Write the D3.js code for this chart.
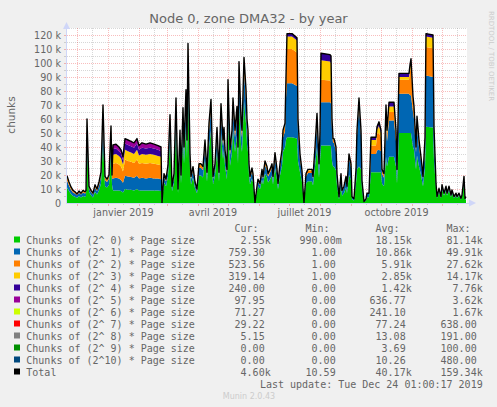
<!DOCTYPE html>
<html>
<head>
<meta charset="utf-8">
<script src="https://cdn.jsdelivr.net/npm/d3@7"></script>
<style>
  html, body { margin: 0; padding: 0; background: #f0f0f0; }
  svg { display: block; }
  text { font-family: "DejaVu Sans", sans-serif; }
  .mono { font-family: "DejaVu Sans Mono", monospace; }
</style>
</head>
<body>
<svg id="chart" width="497" height="407"></svg>
<script>
// ---------------------------------------------------------------
// Data (values in thousands of chunks), day offset from 2018-11-21
// ---------------------------------------------------------------
const DAY = [
  0,2,4,6,8,10,12,14,16,18,19,20,22,24,26,28,30,32,34,36,38,40,42,44,45,
  46,49,52,54,56,58,61,64,67,70,72,75,79,83,87,91,94,95,
  97,99,101,103,105,107,109,111,113,114,116,117,119,120,121,123,124,126,128,130,
  132,134,136,138,140,142,144,146,148,150,152,154,156,157,158,160,161,163,165,166,
  168,170,171,172,174,175,177,179,180,181,182,183,185,186,188,190,191,193,195,196,
  198,200,201,203,205,206,208,210,211,213,215,216,218,
  219,220,225,230,231,233,235,236,237,239,241,245,246,248,250,252,253,
  254,263,264,265,266,267,269,270,272,274,275,277,279,280,282,284,285,287,289,290,292,294,295,297,299,300,302,
  304,309,310,312,314,315,317,319,320,322,327,329,330,332,342,343,344,346,347,349,350,352,354,355,356,358,359,366,367,
  369,370,372,374,375,377,379,380,382,384,385,387,389,390,392,394,395,397,398,399
];
// Chunks of (2^0)
const S0 = [
  11,8.5,6.5,5,4.5,3.5,5,4,5,4.5,5,40,8,5.5,4,8,6,9,14,44,12,11,13,36,13,
  9,9,9,8.5,7.5,10,9.5,9.5,9,10,9,9,9,9,9,9,8.5,0,
  14.7,11.9,18.9,44.1,8.4,14.7,52.5,7,36.4,14,47.6,28,56.7,31.5,79.8,24.5,13.3,18.2,10.5,7,
  19.6,19.6,18.2,31.5,15.4,39.9,51.8,13.3,19.6,37.8,15.4,49.7,31.5,37.8,26.6,16.8,61.6,26.6,36.4,52.5,
  36.4,48.3,28,70.7,42,36.4,72.8,56.7,42,36.4,19.6,13.3,17.5,14.7,0,8.4,11.9,9.8,16.8,13.3,
  21,18.2,14.7,16.8,19.6,13.3,25.2,16.8,9.8,19.6,26.6,36.4,39.9,
  45,47,47,46,30,22,15,7,0,14,15.5,15.5,12.5,26,40,18,30,
  41,41,40.5,30,26,26,23.2,12.2,2.6,12.2,5.2,7,11,7,20.3,16.2,2.6,1.7,13.9,24,26,24,9.3,0.6,1.7,4.1,4.1,
  22,22,22,22,22,14,12,33,26,33,33,26,14,50,50,50,50,40,38,24,34,26,20,16,12,25,54.5,54,30,
  10.5,3.4,7.9,3.4,9.8,5.3,9,5.3,9,4.3,7,3.4,5.3,3.4,5.3,2.5,4.3,14.3,2.5,2.55
];
// Chunks of (2^1)
const S1 = [
  5,4,3,2.5,2.2,2,2.3,2,2.5,2.2,2.5,12,2.5,2.3,2,3,2.5,3.5,5,16,4.5,4,4.5,12,4.5,
  8.5,9,8.5,8,7,9.5,9.5,9,9,9.5,8.5,9,8.5,9,8.5,8.5,8.5,0,
  4.2,3.4,5.4,12.6,2.4,4.2,15,2,10.4,4,13.6,8,16.2,9,22.8,7,3.8,5.2,3,2,
  5.6,5.6,5.2,9,4.4,11.4,14.8,3.8,5.6,10.8,4.4,14.2,9,10.8,7.6,4.8,17.6,7.6,10.4,15,
  10.4,13.8,8,20.2,12,10.4,20.8,16.2,12,10.4,5.6,3.8,5,4.2,0,2.4,3.4,2.8,4.8,3.8,
  6,5.2,4.2,4.8,5.6,3.8,7.2,4.8,2.8,5.6,7.6,10.4,11.4,
  30,38.5,38.5,37.5,20,9,6,2.2,0,5,6,6,4.8,10,17,7,15,
  31,31,30.5,22,17,17,13.2,6.9,1.5,6.9,3,4,6.3,4,11.6,9.2,1.5,1,7.9,24,43,24,5.3,0.3,1,2.3,2.3,
  13,13,15.5,16,15,7,6,26,18,26,26,18,7,28,28,27,27,25,22,12,20,14,10,8,5,15,36.5,36,18,
  2.1,0.7,1.6,0.7,2,1,1.8,1,1.8,0.9,1.4,0.7,1,0.7,1,0.5,0.9,2.9,0.5,0.76
];
// Chunks of (2^2)
const S2 = [
  2.5,2,1.5,1.2,1,0.8,1,0.8,1.2,1,1.2,6,1.2,1,0.8,1.5,1.2,2,2.5,8,2,1.5,2,5,2,
  10.5,10.5,10,9.5,8,11.5,11,11,10.5,11.5,10.5,10.5,10.5,10.5,10.5,10,10,0,
  1.5,1.2,1.9,4.4,0.8,1.5,5.3,0.7,3.6,1.4,4.8,2.8,5.7,3.2,8,2.5,1.3,1.8,1.1,0.7,
  2,2,1.8,3.2,1.5,4,5.2,1.3,2,3.8,1.5,5,3.2,3.8,2.7,1.7,6.2,2.7,3.6,5.3,
  3.6,4.8,2.8,7.1,4.2,3.6,7.3,5.7,4.2,3.6,2,1.3,1.8,1.5,0,0.8,1.2,1,1.7,1.3,
  2.1,1.8,1.5,1.7,2,1.3,2.5,1.7,1,2,2.7,3.6,4,
  12,24.5,24.5,24,7,3,1.5,0.6,0,1.5,1.8,1.8,1.3,3,5,2,4,
  16,15.5,15.5,5,2,2,2.4,1.3,0.3,1.3,0.5,0.7,1.1,0.7,2.1,1.7,0.3,0.2,1.4,3,4.5,3,1,0.1,0.2,0.4,0.4,
  6,6,12,12,10,2,2,6,5,6,6,5,2,10,10,17,21,8,7,3,6,4,2,1.5,1.5,5,20.5,20.5,5,
  1.1,0.4,0.8,0.4,1,0.6,1,0.6,1,0.4,0.7,0.4,0.6,0.4,0.6,0.3,0.4,1.5,0.3,0.52
];
// Chunks of (2^3)
const S3 = [
  1,0.5,0.5,0.3,0.3,0.2,0.2,0.2,0.3,0.3,0.3,2,0.3,0.2,0.2,0.5,0.3,0.5,0.5,2,0.5,0.5,0.5,2,0.5,
  6.5,6.5,6,6,5,7,7,6.5,6.5,7,6,6.5,6.5,6.5,6.5,6,6,0,
  0.6,0.5,0.8,1.9,0.4,0.6,2.2,0.3,1.6,0.6,2,1.2,2.4,1.3,3.4,1,0.6,0.8,0.4,0.3,
  0.8,0.8,0.8,1.3,0.7,1.7,2.2,0.6,0.8,1.6,0.7,2.1,1.3,1.6,1.1,0.7,2.6,1.1,1.6,2.2,
  1.6,2.1,1.2,3,1.8,1.6,3.1,2.4,1.8,1.6,0.8,0.6,0.7,0.6,0,0.4,0.5,0.4,0.7,0.6,
  0.9,0.8,0.6,0.7,0.8,0.6,1.1,0.7,0.4,0.8,1.1,1.6,1.7,
  3,9,9,8.5,2.5,1,0.5,0.2,0,0.5,0.7,0.7,0.4,1,2,1,1,
  14,13.5,13.5,2,1,1,1.2,0.6,0.1,0.6,0.3,0.3,0.6,0.3,1,0.9,0.1,0.1,0.8,1,1.5,1,0.4,0,0.1,0.2,0.2,
  4,4,3,5,3,1,1,4,3,4,4,3,1,2,2,3,3.5,2,1.5,1,2,1,1,0.5,0.5,2,7.5,7.5,1.5,
  0.3,0.1,0.2,0.1,0.3,0.1,0.2,0.1,0.2,0.1,0.2,0.1,0.1,0.1,0.1,0,0.1,0.3,0,0.32
];
// Chunks of (2^4)
const S4 = [
  0,0,0,0,0,0,0,0,0,0,0,0,0,0,0,0,0,0,0,0,0,0,0,0,0,
  4,4,3.5,3.5,3,4.5,4.5,4.5,4.5,4.5,4,4.5,4.5,4.5,4.5,4.5,4,0,
  0,0,0,0,0,0,0,0,0,0,0,0,0,0,0,0,0,0,0,0,
  0,0,0,0,0,0,0,0,0,0,0,0,0,0,0,0,0,0,0,0,
  0,0,0,0,0,0,0,0,0,0,0,0,0,0,0,0,0,0,0,0,
  0,0,0,0,0,0,0,0,0,0,0,0,0,
  0,2,2,2,0.5,0,0,0,0,0,0,0,0,0,0,0,0,
  5,5,5,1,0,0,0,0,0,0,0,0,0,0,0,0,0,0,0,0,0,0,0,0,0,0,0,
  2,2,2,3,2,0,0,1,0,3,3,0,0,2.6,2.6,1.6,1.5,1,0.5,0,0,0,0,0,0,0,2,2,0,
  0,0,0,0,0,0,0,0,0,0,0,0,0,0,0,0,0,0,0,0.24
];
// Chunks of (2^5)
const S5 = [
  0,0,0,0,0,0,0,0,0,0,0,0,0,0,0,0,0,0,0,0,0,0,0,0,0,
  3,3,3,2.5,2.5,3.5,3.5,3.5,3.5,3.5,3,3.5,3,3.5,3,3,3,0,
  0,0,0,0,0,0,0,0,0,0,0,0,0,0,0,0,0,0,0,0,
  0,0,0,0,0,0,0,0,0,0,0,0,0,0,0,0,0,0,0,0,
  0,0,0,0,0,0,0,0,0,0,0,0,0,0,0,0,0,0,0,0,
  0,0,0,0,0,0,0,0,0,0,0,0,0,
  0,0,0,0,0,0,0,0,0,0,0,0,0,0,0,0,0,
  0,0,0,0,0,0,0,0,0,0,0,0,0,0,0,0,0,0,0,0,0,0,0,0,0,0,0,
  0,0,0,0,0,0,0,0,0,0,0,0,0,0,0,0,0,0,0,0,0,0,0,0,0,0,0,0,0,
  0,0,0,0,0,0,0,0,0,0,0,0,0,0,0,0,0,0,0,0.1
];

// Legend
const LABELS = [
  'Chunks of (2^ 0) * Page size', 'Chunks of (2^ 1) * Page size',
  'Chunks of (2^ 2) * Page size', 'Chunks of (2^ 3) * Page size',
  'Chunks of (2^ 4) * Page size', 'Chunks of (2^ 5) * Page size',
  'Chunks of (2^ 6) * Page size', 'Chunks of (2^ 7) * Page size',
  'Chunks of (2^ 8) * Page size', 'Chunks of (2^ 9) * Page size',
  'Chunks of (2^10) * Page size', 'Total'
];
const COLORS = ['#00CC00','#0066B3','#FF8000','#FFCC00','#330099','#990099',
                '#CCFF00','#FF0000','#808080','#008F00','#00487D','#000000'];
const CUR = ['2.55k','759.30','523.56','319.14','240.00','97.95','71.27','29.22','5.15','0.00','0.00','4.60k'];
const MIN = ['990.00m','1.00','1.00','1.00','0.00','0.00','0.00','0.00','0.00','0.00','0.00','10.59'];
const AVG = ['18.15k','10.86k','5.91k','2.85k','1.42k','636.77','241.10','77.24','13.08','3.69','10.26','40.17k'];
const MAX = ['81.14k','49.91k','27.62k','14.17k','7.76k','3.62k','1.67k','638.00','191.00','100.00','480.00','159.34k'];
const Y_TICKS = [0,10000,20000,30000,40000,50000,60000,70000,80000,90000,100000,110000,120000];
const X_LABEL_MONTHS = ['janvier 2019','avril 2019','juillet 2019','octobre 2019'];

// ---------------------------------------------------------------
const X0 = 67, X1 = 467, Y0 = 203, Y1 = 28;
const start = new Date(2018, 10, 21);
const end = d3.timeDay.offset(start, 400);

const svg = d3.select('#chart');
svg.append('rect').attr('width', 497).attr('height', 407).attr('fill', '#f0f0f0');
svg.append('rect').attr('x', X0).attr('y', Y1).attr('width', X1 - X0).attr('height', Y0 - Y1).attr('fill', '#fff');

const x = d3.scaleTime().domain([start, end]).range([X0, X1]);
const y = d3.scaleLinear().domain([0, 125000]).range([Y0, Y1]);

const GRID = 'rgba(140,140,140,0.35)';
const MGRID = 'rgba(229,0,0,0.26)';

// grid: horizontal
const grid = svg.append('g');
d3.range(5000, 125001, 5000).forEach(v => {
  const major = v % 10000 === 0;
  grid.append('line')
    .attr('x1', X0).attr('x2', X1)
    .attr('y1', Math.round(y(v)) + 0.5).attr('y2', Math.round(y(v)) + 0.5)
    .attr('stroke', major ? MGRID : GRID)
    .attr('stroke-dasharray', '1,1');
  grid.append('line')
    .attr('x1', X0 - 3).attr('x2', X0)
    .attr('y1', Math.round(y(v)) + 0.5).attr('y2', Math.round(y(v)) + 0.5)
    .attr('stroke', major ? MGRID : GRID);
});
// grid: vertical (month starts major, mid-month minor)
const months = d3.timeMonth.range(d3.timeMonth.ceil(start), end);
months.forEach(m => {
  const xm = Math.round(x(m)) + 0.5;
  grid.append('line').attr('x1', xm).attr('x2', xm).attr('y1', Y1).attr('y2', Y0)
    .attr('stroke', MGRID).attr('stroke-dasharray', '1,1');
  grid.append('line').attr('x1', xm).attr('x2', xm).attr('y1', Y0).attr('y2', Y0 + 3)
    .attr('stroke', MGRID);
});
d3.timeMonth.range(d3.timeMonth.floor(start), end).forEach(m => {
  const mid = d3.timeDay.offset(m, 15);
  if (mid < start || mid > end) return;
  const xm = Math.round(x(mid)) + 0.5;
  grid.append('line').attr('x1', xm).attr('x2', xm).attr('y1', Y1).attr('y2', Y0)
    .attr('stroke', GRID).attr('stroke-dasharray', '1,1');
  grid.append('line').attr('x1', xm).attr('x2', xm).attr('y1', Y0).attr('y2', Y0 + 2)
    .attr('stroke', GRID);
});

// data
const KEYS = ['s0','s1','s2','s3','s4','s5'];
const SRC = [S0, S1, S2, S3, S4, S5];
const rows = DAY.map((d, i) => {
  const r = { date: d3.timeDay.offset(start, d) };
  KEYS.forEach((k, j) => { r[k] = SRC[j][i] * 1000; });
  return r;
});
const stacked = d3.stack().keys(KEYS)(rows);

svg.append('clipPath').attr('id', 'plot-clip')
  .append('rect').attr('x', X0).attr('y', Y1 - 2).attr('width', X1 - X0).attr('height', Y0 - Y1 + 2);

const plot = svg.append('g').attr('clip-path', 'url(#plot-clip)');
const area = d3.area()
  .x(d => x(d.data.date))
  .y0(d => y(d[0]))
  .y1(d => y(d[1]));
plot.selectAll('path.layer')
  .data(stacked)
  .join('path')
  .attr('class', 'layer')
  .attr('fill', (d, i) => COLORS[i])
  .attr('d', area);

const topLayer = stacked[stacked.length - 1];
plot.append('path')
  .datum(topLayer)
  .attr('fill', 'none')
  .attr('stroke', '#000')
  .attr('stroke-width', 1.4)
  .attr('stroke-linejoin', 'round')
  .attr('d', d3.line().x(d => x(d.data.date)).y(d => y(d[1])));

// axes
const AXIS = '#CFD6F8';
svg.append('line').attr('x1', X0 - 0.5).attr('x2', 471).attr('y1', Y0 + 0.5).attr('y2', Y0 + 0.5)
  .attr('stroke', AXIS);
svg.append('line').attr('x1', X0 - 0.5).attr('x2', X0 - 0.5).attr('y1', Y0 + 0.5).attr('y2', 25)
  .attr('stroke', AXIS);
svg.append('path').attr('d', `M${X0 - 4},29 L${X0 + 3},29 L${X0 - 0.5},22 Z`).attr('fill', AXIS);
svg.append('path').attr('d', 'M469,199.5 L469,206.5 L476,203 Z').attr('fill', AXIS);

// y tick labels
svg.append('g').selectAll('text')
  .data(Y_TICKS)
  .join('text')
  .attr('x', 61)
  .attr('y', d => y(d) + 3.5)
  .attr('text-anchor', 'end')
  .attr('font-size', 9.6)
  .attr('fill', '#666')
  .text(d => d === 0 ? '0' : (d / 1000) + ' k');

// x labels centred in their month
const labelMonths = [new Date(2019, 0, 1), new Date(2019, 3, 1), new Date(2019, 6, 1), new Date(2019, 9, 1)];
svg.append('g').selectAll('text')
  .data(labelMonths)
  .join('text')
  .attr('x', d => (x(d) + x(d3.timeMonth.offset(d, 1))) / 2)
  .attr('y', 215.5)
  .attr('text-anchor', 'middle')
  .attr('font-size', 9.6)
  .attr('fill', '#666')
  .text((d, i) => X_LABEL_MONTHS[i]);

// title and side labels
svg.append('text').attr('x', 248.5).attr('y', 23).attr('text-anchor', 'middle')
  .attr('font-size', 13).attr('fill', '#666').text('Node 0, zone DMA32 - by year');
svg.append('text').attr('transform', 'translate(14.5,115) rotate(-90)').attr('text-anchor', 'middle')
  .attr('font-size', 10.5).attr('fill', '#666').text('chunks');
svg.append('text').attr('transform', 'translate(489,56) rotate(90)').attr('text-anchor', 'middle')
  .attr('font-size', 7).attr('fill', '#cccccc').text('RRDTOOL / TOBI OETIKER');

// legend
const CH = 6.02;
const legend = svg.append('g').attr('class', 'mono').attr('font-size', 10).attr('fill', '#666');
const COL_END = [270.7, 341.7, 411.7, 482.7];
['Cur:', 'Min:', 'Avg:', 'Max:'].forEach((h, i) => {
  legend.append('text').attr('class', 'mono').attr('x', COL_END[i] - 2 * CH).attr('y', 231.5)
    .attr('text-anchor', 'end').text(h);
});
LABELS.forEach((lab, i) => {
  const by = 243.5 + i * 12;
  legend.append('rect').attr('x', 14).attr('y', by - 7).attr('width', 6).attr('height', 6)
    .attr('fill', COLORS[i]);
  legend.append('text').attr('class', 'mono').attr('x', 26.3).attr('y', by).text(lab);
  [CUR[i], MIN[i], AVG[i], MAX[i]].forEach((v, j) => {
    const suffixed = /[km]$/.test(v);
    legend.append('text').attr('class', 'mono')
      .attr('x', COL_END[j] - (suffixed ? 0 : CH)).attr('y', by)
      .attr('text-anchor', 'end').text(v);
  });
});
legend.append('text').attr('class', 'mono').attr('x', 482.7).attr('y', 387.5)
  .attr('text-anchor', 'end').text('Last update: Tue Dec 24 01:00:17 2019');
svg.append('text').attr('x', 249).attr('y', 398.5).attr('text-anchor', 'middle')
  .attr('font-size', 8).attr('fill', '#cccccc').text('Munin 2.0.43');
</script>
</body>
</html>
